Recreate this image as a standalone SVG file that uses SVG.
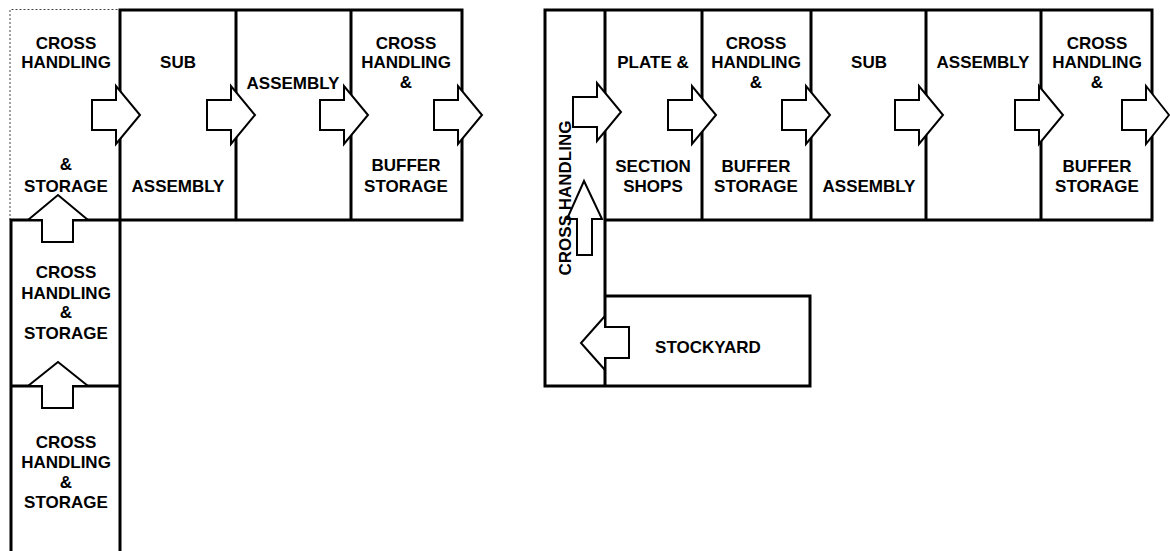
<svg xmlns="http://www.w3.org/2000/svg" width="1170" height="551" viewBox="0 0 1170 551">
<style>
.w{stroke:#000;stroke-width:3;fill:none;stroke-linecap:square}
.d{stroke:#444;stroke-width:1;fill:none;stroke-dasharray:2,2}
.a{stroke:#000;stroke-width:2;fill:#fff;stroke-linejoin:miter}
.t{font-family:"Liberation Sans",Arial,sans-serif;font-weight:bold;font-size:17px;text-anchor:middle;fill:#000}
</style>
<rect width="1170" height="551" fill="#fff"/>
<g id="walls">
<path class="d" d="M10,220 V9.5 H120"/>
<path class="w" d="M120,10 H462 V220 H11 M11,220 V551 M120,10 V551 M236,10 V220 M351,10 V220 M11,386 H120"/>
<path class="w" d="M545,10 H1152 V220 H605 M545,10 V386 H810 V296 H605 M605,10 V386 M702,10 V220 M811,10 V220 M926,10 V220 M1041,10 V220"/>
</g>
<g id="connectors">
<path class="a" d="M92,100 H116 V86 L140,115 L116,144 V130 H92 Z"/>
<path class="a" d="M207,100 H231 V86 L255,115 L231,144 V130 H207 Z"/>
<path class="a" d="M320,100 H344 V86 L368,115 L344,144 V130 H320 Z"/>
<path class="a" d="M434,100 H458 V86 L482,115 L458,144 V130 H434 Z"/>
<path class="a" d="M42,242 V220 H28 L58,195 L88,220 H73 V242 Z"/>
<path class="a" d="M42,408 V386 H28 L58,362 L88,386 H73 V408 Z"/>
<path class="a" d="M573,97 H597 V83 L621,112 L597,141 V127 H573 Z"/>
<path class="a" d="M668,100 H692 V86 L716,115 L692,144 V130 H668 Z"/>
<path class="a" d="M782,100 H806 V86 L830,115 L806,144 V130 H782 Z"/>
<path class="a" d="M895,100 H919 V86 L943,115 L919,144 V130 H895 Z"/>
<path class="a" d="M1015,100 H1039 V86 L1063,115 L1039,144 V130 H1015 Z"/>
<path class="a" d="M1122,100 H1146 V86 L1169,115 L1146,144 V130 H1122 Z"/>
<path class="a" d="M577,255 V219 H567 L584,181 L602,219 H592 V255 Z"/>
<path class="a" d="M629,327 H605 V316 L581,343 L605,370 V358 H629 Z"/>
</g>
<g id="node-left-cross">
<text class="t" x="66" y="49">CROSS</text>
<text class="t" x="66" y="68">HANDLING</text>
<text class="t" x="66" y="170">&amp;</text>
<text class="t" x="66" y="192">STORAGE</text>
</g>
<g id="node-left-sub">
<text class="t" x="178" y="68">SUB</text>
<text class="t" x="178" y="192">ASSEMBLY</text>
</g>
<g id="node-left-assembly">
<text class="t" x="293" y="89">ASSEMBLY</text>
</g>
<g id="node-left-buffer">
<text class="t" x="406" y="49">CROSS</text>
<text class="t" x="406" y="68">HANDLING</text>
<text class="t" x="406" y="88">&amp;</text>
<text class="t" x="406" y="171">BUFFER</text>
<text class="t" x="406" y="192">STORAGE</text>
</g>
<g id="node-left-storage1">
<text class="t" x="66" y="278">CROSS</text>
<text class="t" x="66" y="299">HANDLING</text>
<text class="t" x="66" y="318">&amp;</text>
<text class="t" x="66" y="339">STORAGE</text>
</g>
<g id="node-left-storage2">
<text class="t" x="66" y="448">CROSS</text>
<text class="t" x="66" y="468">HANDLING</text>
<text class="t" x="66" y="488">&amp;</text>
<text class="t" x="66" y="508">STORAGE</text>
</g>
<g id="node-right-cross">
<text class="t" transform="translate(571,198) rotate(-90)">CROSS HANDLING</text>
</g>
<g id="node-right-plate">
<text class="t" x="653" y="68">PLATE &amp;</text>
<text class="t" x="653" y="172">SECTION</text>
<text class="t" x="653" y="192">SHOPS</text>
</g>
<g id="node-right-buffer1">
<text class="t" x="756" y="49">CROSS</text>
<text class="t" x="756" y="68">HANDLING</text>
<text class="t" x="756" y="88">&amp;</text>
<text class="t" x="756" y="172">BUFFER</text>
<text class="t" x="756" y="192">STORAGE</text>
</g>
<g id="node-right-sub">
<text class="t" x="869" y="68">SUB</text>
<text class="t" x="869" y="192">ASSEMBLY</text>
</g>
<g id="node-right-assembly">
<text class="t" x="983" y="68">ASSEMBLY</text>
</g>
<g id="node-right-buffer2">
<text class="t" x="1097" y="49">CROSS</text>
<text class="t" x="1097" y="68">HANDLING</text>
<text class="t" x="1097" y="88">&amp;</text>
<text class="t" x="1097" y="172">BUFFER</text>
<text class="t" x="1097" y="192">STORAGE</text>
</g>
<g id="node-stockyard">
<text class="t" x="708" y="353">STOCKYARD</text>
</g>
</svg>
